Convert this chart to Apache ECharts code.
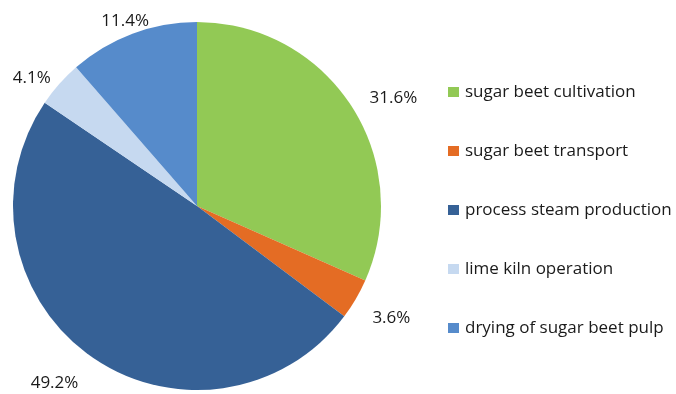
<!DOCTYPE html>
<html>
<head>
<meta charset="utf-8">
<style>
  html, body { margin: 0; padding: 0; background: #ffffff; }
  #chart { width: 676px; height: 394px; }
</style>
<script src="https://cdn.jsdelivr.net/npm/echarts@6/dist/echarts.min.js"></script>
</head>
<body>
<div id="chart"></div>
<script>
// Energy use shares in sugar production (%)
const categories = [
  'sugar beet cultivation',
  'sugar beet transport',
  'process steam production',
  'lime kiln operation',
  'drying of sugar beet pulp'
];
const shares = [31.6, 3.6, 49.2, 4.1, 11.4];
const colors = ['#92c955', '#e46c24', '#366196', '#c6d9f0', '#568bcb'];

// small nudges for the percentage labels so they sit clear of the rim
const labelNudge = [[5, -2], [3, 14], [-1, 19], [4, 1], [25, -3]];

const chart = echarts.init(document.getElementById('chart'), null, { renderer: 'canvas' });

const fontFamily = '"Open Sans", "Noto Sans", "DejaVu Sans", sans-serif';

chart.setOption({
  backgroundColor: '#ffffff',
  animation: false,
  color: colors,
  legend: {
    orient: 'vertical',
    left: 443,
    top: 77,
    itemWidth: 11,
    itemHeight: 10,
    itemGap: 39,
    icon: 'rect',
    selectedMode: false,
    textStyle: {
      fontFamily: fontFamily,
      fontSize: 17,
      lineHeight: 20,
      color: '#1a1a1a',
      padding: [0, 0, 0, 1]
    },
    data: categories
  },
  series: [{
    type: 'pie',
    center: [197, 206],
    radius: 184,
    startAngle: 90,
    clockwise: true,
    avoidLabelOverlap: false,
    itemStyle: { borderWidth: 0 },
    label: {
      show: true,
      position: 'outside',
      formatter: p => p.value.toFixed(1) + '%',
      fontFamily: fontFamily,
      fontSize: 17,
      color: '#1a1a1a',
      alignTo: 'none'
    },
    labelLine: { show: false, length: 10, length2: 0 },
    labelLayout: p => ({ dx: labelNudge[p.dataIndex][0], dy: labelNudge[p.dataIndex][1] }),
    emphasis: { disabled: true },
    data: categories.map((name, i) => ({ name: name, value: shares[i] }))
  }]
});
</script>
</body>
</html>
